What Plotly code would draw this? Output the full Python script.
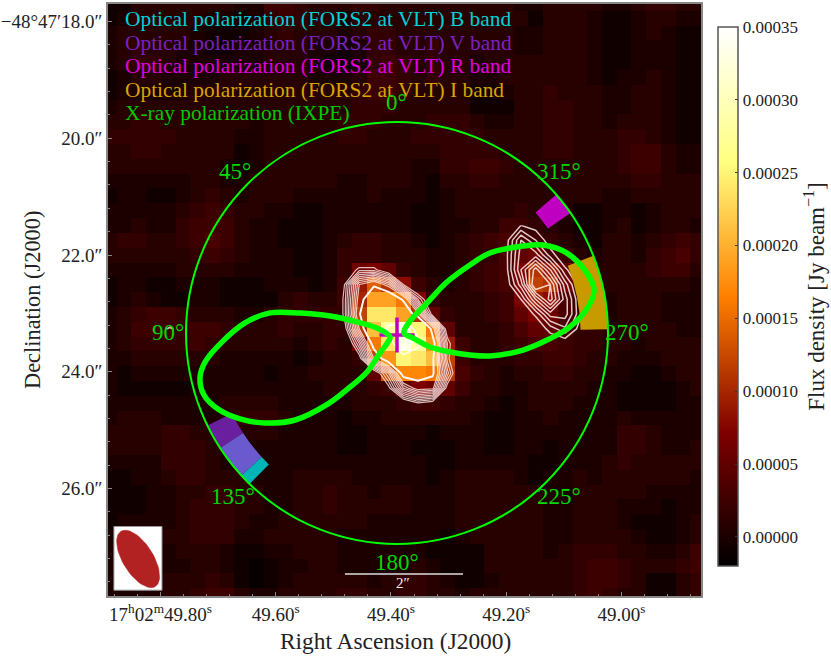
import numpy as np
import plotly.graph_objects as go

FONT = "Liberation Serif"

# image pixels, 1e-5 Jy/beam
flux_rows = [
    [-1,-1,1,1,1,1,1,1,1,0, 0,3,3,2,1,1,1,2,2,1, 1,1,1,1,1,1,1,1,0,0, 1,1,1,1,0,0,1,2,2,1, 1],
    [-1,0,1,1,1,1,1,0,0,-1, 0,2,3,2,1,1,0,1,1,1, 1,1,1,1,1,1,1,1,1,-1, 1,1,1,0,-1,-1,0,1,1,0, 0],
    [0,1,1,1,1,1,0,-1,-1,-1, 0,1,2,1,1,1,0,1,2,2, 1,1,1,1,1,1,1,1,0,0, 1,1,1,0,-1,-1,0,1,0,-1, -1],
    [0,1,2,1,1,0,0,-1,-1,0, 0,1,1,1,0,0,-1,0,2,2, 1,1,2,1,1,1,1,1,0,0, 1,1,1,0,-1,-1,0,0,0,-1, -1],
    [0,1,2,2,1,0,0,0,0,0, 0,1,1,1,0,-1,-1,0,2,3, 2,1,2,1,1,0,1,1,1,1, 1,1,1,0,-1,-1,0,0,0,-1, -1],
    [-1,0,1,1,0,0,0,0,1,1, 1,1,1,1,0,0,0,1,3,3, 2,1,2,1,1,0,0,1,1,1, 1,1,1,0,-1,0,0,1,0,-1, -1],
    [-1,0,0,0,0,0,1,1,1,1, 1,1,1,1,1,1,1,2,3,3, 2,1,1,1,1,-1,-1,0,1,1, 2,1,1,1,0,0,1,1,0,-1, -1],
    [0,1,1,1,1,1,1,1,1,1, 1,1,1,1,1,1,1,2,2,2, 1,1,1,1,1,-1,-1,-1,1,1, 2,2,1,1,0,0,1,1,0,-1, -1],
    [1,1,2,2,1,1,1,1,1,1, 0,1,1,1,1,1,2,2,2,1, 1,1,2,2,2,1,0,0,1,1, 2,2,1,1,0,1,1,1,0,-1, -1],
    [2,2,2,2,2,1,1,1,1,0, 0,1,1,1,1,1,2,2,1,1, 1,2,2,2,2,2,1,1,1,1, 2,2,1,1,1,2,2,1,0,-1, -1],
    [1,1,2,2,1,1,1,1,1,-1, 0,1,1,1,1,1,1,1,1,1, 1,1,1,2,2,2,2,1,1,1, 2,2,1,1,1,2,3,3,1,0, 0],
    [1,1,1,1,1,1,1,1,0,-1, 0,1,1,1,1,1,1,1,1,1, 1,0,0,2,2,3,3,2,1,1, 1,1,1,1,1,2,3,3,1,0, 0],
    [0,0,0,0,0,0,1,1,0,0, 1,1,1,1,1,1,0,0,1,1, 1,0,-1,1,1,2,2,1,1,1, 1,1,1,1,1,1,2,2,1,1, 1],
    [-1,0,0,-1,-1,0,1,2,1,0, 1,1,1,0,0,0,0,0,1,0, 0,0,-1,0,1,1,1,1,1,1, 1,1,1,1,0,0,1,1,1,1, 1],
    [0,0,0,0,0,1,2,3,2,1, 1,0,0,-1,-1,0,0,0,0,0, 0,-1,-1,0,1,1,1,1,2,1, 1,1,-1,-1,0,0,-1,0,1,1, 1],
    [0,0,1,0,0,2,3,3,3,1, 0,0,-1,-1,-1,0,0,0,0,0, 0,-1,-1,0,0,1,1,3,3,2, 1,0,-1,-1,0,1,-1,0,1,1, 0],
    [1,2,2,1,1,2,3,4,3,1, 0,0,-1,-1,-1,0,1,2,2,1, 1,0,-1,0,1,2,3,4,4,3, 2,1,0,-1,1,1,0,1,2,3, 2],
    [1,1,1,1,1,1,2,3,2,1, 0,0,0,-1,-1,0,2,2,2,1, 1,1,0,0,1,2,2,4,5,6, 4,3,1,0,1,1,0,2,3,4, 2],
    [0,0,0,0,0,1,1,1,1,0, 0,0,0,-1,-1,0,2,6,7,5, 2,1,0,0,1,2,3,4,7,11, 9,5,2,1,1,1,1,2,3,3, 1],
    [-1,0,0,-1,-1,0,0,0,-1,-1, -1,0,0,0,-1,0,3,9,14,11, 8,3,1,0,1,2,3,4,7,12, 11,6,3,1,1,1,1,1,1,1, 0],
    [-1,0,1,0,-1,-1,0,0,-1,-1, -1,-1,1,2,1,1,3,10,19,19, 16,7,2,1,1,1,2,3,7,9, 8,4,2,1,0,1,1,1,0,0, 0],
    [0,1,2,3,3,2,1,1,1,0, 0,1,2,2,2,2,2,12,24,24, 19,11,5,2,1,1,2,3,5,7, 6,4,2,1,0,1,1,1,0,0, 0],
    [0,1,3,3,3,2,3,3,2,1, 1,1,2,1,1,2,2,11,21,28, 32,25,16,5,1,1,1,2,4,5, 5,4,2,2,1,1,1,1,1,0, 0],
    [0,1,2,2,2,2,3,2,1,1, 1,1,1,0,1,2,1,6,16,24, 33,28,18,9,3,1,1,2,3,4, 4,3,2,2,1,1,0,1,1,1, 1],
    [0,0,1,1,1,1,1,1,0,0, 0,0,0,-1,0,1,1,2,12,18, 25,24,21,12,3,1,1,1,2,2, 3,3,2,1,1,0,0,0,1,1, 1],
    [0,-1,0,0,0,0,0,0,0,0, 0,-1,0,0,1,1,1,1,5,13, 17,17,16,11,4,2,1,0,1,1, 2,2,1,1,0,0,-1,-1,0,1, 1],
    [0,-1,-1,-1,-1,-1,0,0,0,0, 0,0,0,0,0,1,1,1,2,3, 5,7,6,5,3,1,1,0,0,1, 1,1,1,0,0,-1,-1,-1,-1,0, 1],
    [0,0,0,0,0,0,0,0,1,1, 1,1,0,0,0,0,0,1,1,1, 2,3,3,2,1,1,0,-1,0,1, 1,1,0,0,0,-1,-1,-1,-1,0, 0],
    [0,1,1,1,0,0,0,0,1,2, 2,2,1,0,0,0,-1,0,0,1, 1,1,1,1,1,0,-1,-1,0,0, 1,0,0,0,0,1,0,0,0,0, 0],
    [1,1,1,1,2,2,1,1,0,1, 1,1,0,0,0,0,-1,-1,0,0, 0,0,-1,0,0,0,-1,-1,0,0, 0,0,0,0,0,2,2,1,0,0, 0],
    [1,1,1,1,2,2,2,1,0,0, 0,0,0,0,0,0,-1,-1,0,0, 0,-1,-1,-1,0,0,-1,-1,0,0, -1,0,0,0,0,2,2,1,0,0, 1],
    [0,0,0,0,2,2,2,1,0,0, 0,0,0,0,0,0,0,0,0,0, 0,0,-1,-1,0,0,0,0,0,-1, -1,0,0,0,1,2,1,1,1,1, 1],
    [-1,-1,0,0,1,2,2,1,1,1, 0,0,0,1,1,1,1,0,0,0, 0,0,-1,0,1,1,1,1,0,-1, 0,0,1,0,1,1,1,1,1,1, 0],
    [-1,-1,-1,0,0,1,1,2,2,1, 1,0,0,1,1,2,1,1,0,1, 1,0,0,0,1,1,1,1,1,1, 0,0,1,1,1,1,1,0,0,0, 0],
    [-1,-1,-1,0,0,1,2,2,2,1, 1,0,0,1,1,2,1,1,1,1, 1,0,0,0,1,1,1,1,1,1, 0,0,1,1,1,0,0,0,-1,0, 0],
    [-1,0,0,0,0,1,2,2,2,1, 0,0,1,1,1,1,1,1,0,0, 0,0,0,0,1,1,1,1,1,1, 0,0,1,1,1,0,-1,-1,-1,0, 1],
    [0,0,0,0,1,1,2,2,2,0, 0,1,1,1,1,1,0,0,0,0, 0,0,0,-1,0,1,1,1,1,1, 0,0,1,1,1,1,0,-1,-1,0, 1],
    [0,0,0,0,0,1,1,1,0,-1, -1,0,0,1,1,1,0,0,0,0, 0,0,-1,-1,-1,-1,1,1,1,1, 0,1,2,2,2,1,1,0,0,1, 3],
    [0,0,0,0,0,0,1,1,0,-1, -2,-1,0,0,1,1,0,0,0,0, 0,1,0,-1,-1,-1,1,1,1,1, 1,1,2,3,3,2,1,1,1,2, 3],
    [0,0,0,0,1,1,1,2,1,-1, -2,-1,0,1,1,1,1,1,0,1, 2,2,1,0,-1,-1,0,1,1,1, 1,1,2,3,3,2,1,-1,-1,1, 2],
    [0,0,0,0,1,1,2,3,3,1, 0,0,1,1,1,1,2,2,1,1, 2,2,1,1,0,1,1,1,1,1, 1,1,2,3,2,1,1,-1,-1,1, 2],
]

# contour maps around the two sources, same pixel grid
contour_main = [
    [0,0,0,0,0,0,0,0,0,0,0],
    [0,1,2,2,1,0,0,0,0,0,0],
    [0,3,5.5,5.5,3,1,0,0,0,0,0],
    [1,5,13,15,12,5,1,0,0,0,0],
    [1,5.5,14,19,19,15,7,2,0,0,0],
    [1,5.5,15,24,24,19,13.5,4,1,0,0],
    [0,4,13,21,28,32,25,14,3.5,1,0],
    [0,1.5,8,17,24,33,28,17,6,1,0],
    [0,0,4,13,18,25,24,16,5.5,1,0],
    [0,0,1,3,8,17,17,16,7.5,1,0],
    [0,0,0,1,4.5,11,14,13.5,4,1,0],
    [0,0,0,0,1,3,5,4,1,0,0],
    [0,0,0,0,0,0,0,0,0,0,0],
]
contour_side = [
    [0,1,0.5,0,0,0,0],
    [0.5,4,2,0.3,0,0,0],
    [0.7,4.5,4.5,1.5,0,0,0],
    [0.6,5,8.5,5,1.2,0,0],
    [0.2,3.5,9.5,8,3.5,0.3,0],
    [0,1,5,8.5,4.5,1.1,0],
    [0,0,1.2,4.5,4.5,1.3,0],
    [0,0,0,1.4,2.8,0.5,0],
    [0,0,0,0,0,0,0],
]

# X-ray polarization lobes, polar angle (deg) and radius (circle = 1)
lobe_right_theta = [270, 312.7, 315, 315.6, 313, 310.7, 304.6, 301.1, 295.2, 287.5, 282.3, 277.8, 272,
                    267.3, 262.3, 256.1, 253.2, 250.3, 247, 252.6, 270]
lobe_right_r = [.033, .084, .201, .338, .473, .581, .726, .808, .890, .944, .956, .914, .820,
                .712, .603, .454, .361, .267, .170, .080, .033]
lobe_left_theta = [120, 76, 74.6, 75.8, 78.4, 81, 86.2, 92.9, 98.6, 102.9, 107.8, 113, 118.7,
                   124.3, 130.5, 135.8, 139, 142.4, 139.6, 135, 120]
lobe_left_r = [.038, .098, .197, .327, .469, .609, .722, .830, .920, .958, .961, .922, .848,
               .757, .635, .469, .339, .233, .124, .060, .038]

# optical polarization wedges
wedge_from = [116, 123, 132.5, 304.7, 271]
wedge_to = [123, 132.5, 135.7, 311, 291.5]
wedge_colors = ["#6a1f9e", "#6a5acd", "#00b4b8", "#c000c0", "#c79a00"]
wedge_inner = 0.87

angle_labels = ["0\u00b0", "45\u00b0", "90\u00b0", "135\u00b0", "180\u00b0", "225\u00b0", "270\u00b0", "315\u00b0"]
angle_label_x = [396, 235, 168, 233, 397, 559, 627, 559]
angle_label_y = [103, 171, 333, 496, 562, 496, 333, 171]

legend_labels = [
    "Optical polarization (FORS2 at VLT) B band",
    "Optical polarization (FORS2 at VLT) V band",
    "Optical polarization (FORS2 at VLT) R band",
    "Optical polarization (FORS2 at VLT) I band",
    "X-ray polarization (IXPE)",
]
legend_colors = ["#00d0d8", "#7a22c0", "#e000e0", "#d9a300", "#00c800"]

ra_ticks = [49.80, 49.60, 49.40, 49.20, 49.00]
ra_labels = ["17<sup>h</sup>02<sup>m</sup>49.80<sup>s</sup>", "49.60<sup>s</sup>", "49.40<sup>s</sup>",
             "49.20<sup>s</sup>", "49.00<sup>s</sup>"]
dec_ticks = [18, 20, 22, 24, 26]
dec_labels = ["\u221248\u00b047\u203218.0\u2033", "20.0\u2033", "22.0\u2033", "24.0\u2033", "26.0\u2033"]

ra_first, ra_step = 49.889, -0.02552
dec_first, dec_step = 17.69, 0.2534
ra_range = [49.8913, 48.8618]
dec_range = [27.84, 17.70]

# beam, arcsec and deg
beam_ra, beam_dec = 49.839, 27.205
beam_major, beam_minor, beam_pa = 0.557, 0.26, 32
beam_box_ra = [49.881, 49.7976, 49.7976, 49.881, 49.881]
beam_box_dec = [26.65, 26.65, 27.74, 27.74, 26.65]

scalebar_ra = [49.480, 49.275]
scalebar_dec = [27.462, 27.462]
speck_ra = [49.7910, 49.7840, 49.7770]
speck_dec = [23.27, 23.24, 23.27]

ra_cells = ra_first + ra_step * np.arange(41)
dec_cells = dec_first + dec_step * np.arange(41)
raw = np.array(flux_rows, dtype=float)
# faint background was read a little bright
flux = np.where(raw <= 4, raw * 0.8, raw) * 1e-5

afmhot = [[0, "rgb(0,0,0)"], [0.25, "rgb(128,0,0)"], [0.5, "rgb(255,128,0)"],
          [0.75, "rgb(255,255,128)"], [1, "rgb(255,255,255)"]]

fig = go.Figure()
fig.add_trace(go.Heatmap(
    x=ra_cells, y=dec_cells, z=flux, zmin=-2e-5, zmax=35e-5, colorscale=afmhot,
    colorbar=dict(
        x=718 / 831, xanchor="left", y=1 - 27 / 658, yanchor="top",
        lenmode="pixels", len=539, thicknessmode="pixels", thickness=20, xpad=0, ypad=0,
        outlinecolor="#555", outlinewidth=1.5, ticks="inside", ticklen=3, tickcolor="#333",
        tick0=0, dtick=5e-5, tickformat=".5f", tickfont=dict(family=FONT, size=17, color="#222"),
        title=dict(text="Flux density [Jy beam<sup>\u22121</sup>]", side="right",
                   font=dict(family=FONT, size=23, color="#222")),
    ),
))

x_main, y_main = ra_cells[15:26], dec_cells[16:29]
x_side, y_side = ra_cells[27:34], dec_cells[15:24]
ring = dict(showscale=False, hoverinfo="skip")
fig.add_trace(go.Contour(x=x_main, y=y_main, z=contour_main, autocontour=False,
                         contours=dict(start=5, end=13, size=1, coloring="none"),
                         line=dict(color="rgba(255,235,235,0.8)", width=1.2, smoothing=0), **ring))
fig.add_trace(go.Contour(x=x_main, y=y_main, z=contour_main, autocontour=False,
                         contours=dict(start=15.5, end=16, size=1, coloring="none"),
                         line=dict(color="#fff5f5", width=2, smoothing=0), **ring))
fig.add_trace(go.Contour(x=x_main, y=y_main, z=contour_main, autocontour=False,
                         contours=dict(start=27, end=30, size=3, coloring="none"),
                         line=dict(color="rgba(255,255,255,0.9)", width=1.5, smoothing=0), **ring))
fig.add_trace(go.Contour(x=x_side, y=y_side, z=contour_side, autocontour=False,
                         contours=dict(start=1, end=8, size=1, coloring="none"),
                         line=dict(color="rgba(255,235,235,0.85)", width=1.5, smoothing=0), **ring))
fig.add_trace(go.Scatter(x=speck_ra, y=speck_dec, mode="lines", hoverinfo="skip",
                         line=dict(color="rgba(255,235,235,0.8)", width=1.5)))

# synthesized beam in the corner
t = np.linspace(0, 2 * np.pi, 60)
pa = np.radians(beam_pa)
east = beam_major * np.cos(t) * np.sin(pa) + beam_minor * np.sin(t) * np.cos(pa)
north = beam_major * np.cos(t) * np.cos(pa) - beam_minor * np.sin(t) * np.sin(pa)
fig.add_trace(go.Scatter(x=beam_box_ra, y=beam_box_dec, mode="lines", fill="toself", fillcolor="white",
                         line=dict(color="#999", width=1), hoverinfo="skip"))
fig.add_trace(go.Scatter(x=beam_ra + east / (15 * np.cos(np.radians(48.79))), y=beam_dec - north,
                         mode="lines", fill="toself", fillcolor="#b22222",
                         line=dict(color="#b22222", width=0.5), hoverinfo="skip"))

fig.add_trace(go.Scatter(x=scalebar_ra, y=scalebar_dec, mode="lines", hoverinfo="skip",
                         line=dict(color="#ddd", width=1.5)))

for start, end, color in zip(wedge_from, wedge_to, wedge_colors):
    fig.add_trace(go.Barpolar(theta=[(start + end) / 2], width=[end - start], r=[1 - wedge_inner],
                              base=[wedge_inner], marker=dict(color=color, line=dict(width=0)),
                              hoverinfo="skip"))
fig.add_trace(go.Scatterpolar(theta=[180], r=[0.01], mode="markers", hoverinfo="skip",
                              marker=dict(symbol="cross-thin", size=25,
                                          line=dict(color="#c000c0", width=3.5))))
fig.add_trace(go.Scatterpolar(theta=lobe_right_theta, r=lobe_right_r, mode="lines", hoverinfo="skip",
                              line=dict(color="#00ff00", width=5.5, shape="spline", smoothing=1)))
fig.add_trace(go.Scatterpolar(theta=lobe_left_theta, r=lobe_left_r, mode="lines", hoverinfo="skip",
                              line=dict(color="#00ff00", width=5.5, shape="spline", smoothing=1)))

axis_style = dict(showgrid=False, zeroline=False, showline=True, linecolor="#888", linewidth=1.5,
                  mirror=True, ticks="inside", ticklen=4, tickcolor="#888",
                  tickfont=dict(family=FONT, size=19, color="#222"))

annotations = [
    dict(x=395 / 831, y=1 - 641 / 658, text="Right Ascension (J2000)", textangle=0,
         font=dict(family=FONT, size=23.4, color="#222")),
    dict(x=32 / 831, y=1 - 300 / 658, text="Declination (J2000)", textangle=-90,
         font=dict(family=FONT, size=22.4, color="#222")),
    dict(x=403 / 831, y=1 - 583 / 658, text="2\u2033", font=dict(family=FONT, size=15, color="#eee")),
]
for i, (label, color) in enumerate(zip(legend_labels, legend_colors)):
    annotations.append(dict(x=123 / 831, y=1 - (19 + 23.6 * i) / 658, text=label, xanchor="left",
                            font=dict(family=FONT, size=21.4, color=color)))
for label, lx, ly in zip(angle_labels, angle_label_x, angle_label_y):
    annotations.append(dict(x=lx / 831, y=1 - ly / 658, text=label,
                            font=dict(family=FONT, size=23, color="#00d800")))
for a in annotations:
    a.update(xref="paper", yref="paper", showarrow=False)
    a.setdefault("xanchor", "center")
    a.setdefault("yanchor", "middle")

fig.update_layout(
    width=831, height=658, margin=dict(l=0, r=0, t=0, b=0), showlegend=False,
    paper_bgcolor="white", plot_bgcolor="black", barmode="overlay",
    xaxis=dict(domain=[108 / 831, 701 / 831], range=ra_range, tickvals=ra_ticks, ticktext=ra_labels,
               minor=dict(ticks="inside", ticklen=2, tickcolor="#888", dtick=0.04), **axis_style),
    yaxis=dict(domain=[62 / 658, 654 / 658], range=dec_range, tickvals=dec_ticks, ticktext=dec_labels,
               minor=dict(ticks="inside", ticklen=2, tickcolor="#888", dtick=0.4), **axis_style),
    polar=dict(
        domain=dict(x=[186 / 831, 608 / 831], y=[114 / 658, 536 / 658]),
        bgcolor="rgba(0,0,0,0)", barmode="overlay",
        radialaxis=dict(visible=False, range=[0, 1]),
        angularaxis=dict(rotation=90, direction="counterclockwise", showticklabels=False,
                         showgrid=False, ticks="", linecolor="#00ff00", linewidth=2),
    ),
    annotations=annotations,
)

fig.write_html("out.html", config=dict(displayModeBar=False),
               post_script="document.body.style.margin='0';document.body.style.overflow='hidden';")
